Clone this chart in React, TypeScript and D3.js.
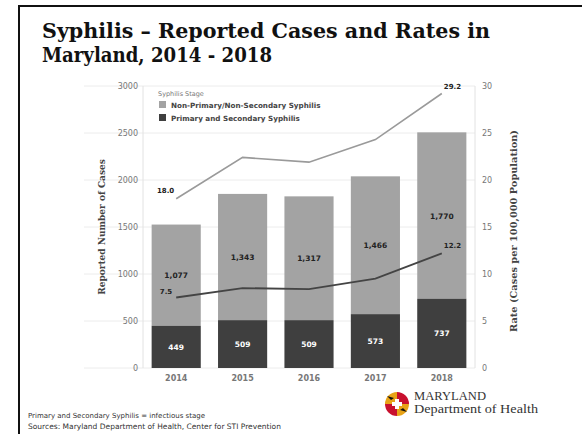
import React from "react";
import * as d3 from "d3";

const years = ["2014", "2015", "2016", "2017", "2018"];
const psCases = [449, 509, 509, 573, 737];
const otherCases = [1077, 1343, 1317, 1466, 1770];
const totalRate = [18.0, 22.4, 21.9, 24.3, 29.2];
const psRate = [7.5, 8.5, 8.4, 9.5, 12.2];
const leftTicks = [0, 500, 1000, 1500, 2000, 2500, 3000];
const rightTicks = [0, 5, 10, 15, 20, 25, 30];
const legendLabels = ["Non-Primary/Non-Secondary Syphilis", "Primary and Secondary Syphilis"];

const W = 582, H = 434;
const X0 = 143, X1 = 475, Y0 = 368, Y1 = 86;

export default function App() {
  const x = d3.scaleBand<string>().domain(years).range([X0, X1]).paddingInner(0.26).paddingOuter(0.13);
  const yL = d3.scaleLinear().domain([0, 3000]).range([Y0, Y1]);
  const yR = d3.scaleLinear().domain([0, 30]).range([Y0, Y1]);
  const cx = (d: string) => (x(d) as number) + x.bandwidth() / 2;
  const line = d3.line<number>().x((_, i) => cx(years[i])).y((v) => yR(v));
  const fmt = d3.format(",");
  const lightGrey = "#a3a3a3";
  const dark = "#3f3f3f";
  const sans = "'DejaVu Sans', Verdana, sans-serif";
  const serif = "'DejaVu Serif', Georgia, serif";

  return (
    <svg width={W} height={H} style={{ position: "absolute", left: 0, top: 0, background: "#fff" }}>
      <rect x={0} y={0} width={W} height={H} fill="#fff" />
      <path d={`M19,${H} L19,6 L${W},6`} fill="none" stroke="#111" strokeWidth={2} />
      <text x={42} y={38} fontFamily={serif} fontWeight="bold" fontSize={21} fill="#111" textLength={448} lengthAdjust="spacingAndGlyphs">
        Syphilis – Reported Cases and Rates in
      </text>
      <text x={42} y={62} fontFamily={serif} fontWeight="bold" fontSize={21} fill="#111" textLength={230} lengthAdjust="spacingAndGlyphs">
        Maryland, 2014 - 2018
      </text>

      {leftTicks.map((t) => (
        <g key={"g" + t}>
          <line x1={84} x2={X1} y1={yL(t)} y2={yL(t)} stroke="#ececec" strokeWidth={1} />
          <text x={138} y={yL(t) + 3} textAnchor="end" fontFamily={sans} fontSize={8} fill="#777">{t}</text>
        </g>
      ))}
      <line x1={X0} x2={X0} y1={Y1} y2={Y0} stroke="#e2e2e2" />
      <line x1={X1} x2={X1} y1={Y1} y2={Y0} stroke="#e2e2e2" />
      {rightTicks.map((t) => (
        <text key={"r" + t} x={482} y={yR(t) + 3} fontFamily={sans} fontSize={8} fill="#777">{t}</text>
      ))}

      {years.map((yr, i) => {
        const bx = x(yr) as number;
        const bw = x.bandwidth();
        const top = yL(psCases[i] + otherCases[i]);
        const mid = yL(psCases[i]);
        return (
          <g key={yr}>
            <rect x={bx} y={top} width={bw} height={mid - top} fill={lightGrey} />
            <rect x={bx} y={mid} width={bw} height={Y0 - mid} fill={dark} />
            <text x={cx(yr)} y={(top + mid) / 2 + 3} textAnchor="middle" fontFamily={sans} fontWeight="bold" fontSize={7.5} fill="#222">{fmt(otherCases[i])}</text>
            <text x={cx(yr)} y={(mid + Y0) / 2 + 3} textAnchor="middle" fontFamily={sans} fontWeight="bold" fontSize={7.5} fill="#fff">{psCases[i]}</text>
            <text x={cx(yr)} y={381} textAnchor="middle" fontFamily={sans} fontWeight="bold" fontSize={8} fill="#777">{yr}</text>
          </g>
        );
      })}

      <path d={line(totalRate) || ""} fill="none" stroke="#9a9a9a" strokeWidth={1.6} />
      <path d={line(psRate) || ""} fill="none" stroke="#444" strokeWidth={1.8} />
      <text x={cx(years[0]) - 2} y={yR(totalRate[0]) - 6} textAnchor="end" fontFamily={sans} fontWeight="bold" fontSize={7} fill="#222">{totalRate[0].toFixed(1)}</text>
      <text x={cx(years[0]) - 4} y={yR(psRate[0]) - 4} textAnchor="end" fontFamily={sans} fontWeight="bold" fontSize={7} fill="#222">{psRate[0].toFixed(1)}</text>
      <text x={cx(years[4]) + 2} y={yR(totalRate[4]) - 5} fontFamily={sans} fontWeight="bold" fontSize={7} fill="#222">{totalRate[4].toFixed(1)}</text>
      <text x={cx(years[4]) + 2} y={yR(psRate[4]) - 5} fontFamily={sans} fontWeight="bold" fontSize={7} fill="#222">{psRate[4].toFixed(1)}</text>

      <text x={158} y={96} fontFamily={sans} fontSize={6.5} fill="#777">Syphilis Stage</text>
      {legendLabels.map((l, i) => (
        <g key={l}>
          <rect x={159} y={101 + i * 13} width={7} height={7} fill={i === 0 ? lightGrey : dark} />
          <text x={171} y={107.5 + i * 13} fontFamily={sans} fontWeight="bold" fontSize={7.2} fill="#444">{l}</text>
        </g>
      ))}

      <text transform={`translate(105,${(Y0 + Y1) / 2}) rotate(-90)`} textAnchor="middle" fontFamily={serif} fontWeight="bold" fontSize={9} fill="#444">Reported Number of Cases</text>
      <text transform={`translate(517,${(Y0 + Y1) / 2 + 4}) rotate(-90)`} textAnchor="middle" fontFamily={serif} fontWeight="bold" fontSize={9.8} fill="#444">Rate (Cases per 100,000 Population)</text>

      <text x={28} y={418} fontFamily={sans} fontSize={7} fill="#333">Primary and Secondary Syphilis = infectious stage</text>
      <text x={28} y={429} fontFamily={sans} fontSize={7.5} fill="#333">Sources: Maryland Department of Health, Center for STI Prevention</text>

      <g transform="translate(397,404)">
        <path d="M0,0 L0,-12 A12,12 0 0 1 12,0 Z" fill="#c8102e" />
        <path d="M0,0 L12,0 A12,12 0 0 1 0,12 Z" fill="#e8a317" />
        <path d="M0,0 L0,12 A12,12 0 0 1 -12,0 Z" fill="#c8102e" />
        <path d="M0,0 L-12,0 A12,12 0 0 1 0,-12 Z" fill="#e8a317" />
        <path d="M-12,0 L-6,-4 L-10,-8 L-3,-6 Z" fill="#111" />
        <path d="M12,0 L6,4 L10,8 L3,6 Z" fill="#111" />
        <path d="M-5,-2 L5,-2 L5,2 L-5,2 Z" fill="#fff" />
        <path d="M-2,-5 L2,-5 L2,5 L-2,5 Z" fill="#fff" />
      </g>
      <text x={414} y={400} fontFamily="'Liberation Serif', serif" fontSize={11.5} fill="#333" textLength={72} lengthAdjust="spacingAndGlyphs">MARYLAND</text>
      <text x={414} y={413} fontFamily="'Liberation Serif', serif" fontSize={11.5} fill="#333" textLength={124} lengthAdjust="spacingAndGlyphs">Department of Health</text>
    </svg>
  );
}
